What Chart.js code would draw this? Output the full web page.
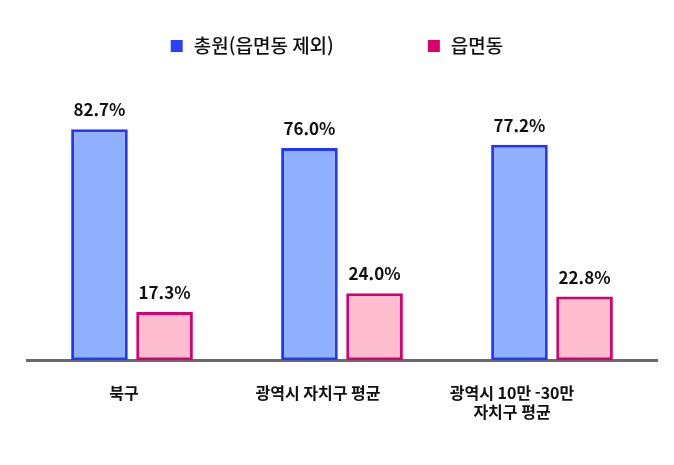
<!DOCTYPE html>
<html lang="ko">
<head>
<meta charset="utf-8">
<script src="https://cdn.jsdelivr.net/npm/chart.js@4.4.1/dist/chart.umd.min.js"></script>
<style>
  html, body { margin: 0; padding: 0; background: #fff; }
  #wrap { width: 674px; height: 465px; position: relative; }
</style>
</head>
<body>
<div id="wrap"><canvas id="chart"></canvas></div>
<script>
// données du graphique
const categories = ['북구', '광역시 자치구 평균', ['광역시 10만 -30만', '자치구 평균']];
const seriesNames = ['총원(읍면동 제외)', '읍면동'];
const totalValues = [82.7, 76.0, 77.2];
const eupmyeonValues = [17.3, 24.0, 22.8];

const FONT = "'Noto Sans CJK KR', 'Noto Sans', sans-serif";

// légende dessinée à la main (écart large entre les deux éléments)
const customLegend = {
  id: 'customLegend',
  afterDraw(chart) {
    const ctx = chart.ctx;
    const items = chart.data.datasets.map(ds => ({ text: ds.label, color: ds.legendColor }));
    const box = 12, gap = 11, itemGap = 94;
    ctx.save();
    ctx.font = '500 19px ' + FONT;
    let total = 0;
    items.forEach((it, i) => {
      it.w = ctx.measureText(it.text).width;
      total += box + gap + it.w + (i > 0 ? itemGap : 0);
    });
    let x = (chart.width - total) / 2;
    const yMid = 46;
    ctx.textBaseline = 'middle';
    items.forEach((it, i) => {
      if (i > 0) x += itemGap;
      ctx.fillStyle = it.color;
      ctx.fillRect(x, yMid - box / 2, box, box);
      x += box + gap;
      ctx.fillStyle = '#111';
      ctx.fillText(it.text, x, yMid);
      x += it.w;
    });
    ctx.restore();
  }
};

// valeurs au-dessus des barres
const valueLabels = {
  id: 'valueLabels',
  afterDatasetsDraw(chart) {
    const ctx = chart.ctx;
    ctx.save();
    ctx.font = 'bold 17px ' + FONT;
    ctx.fillStyle = '#111';
    ctx.textAlign = 'center';
    ctx.textBaseline = 'alphabetic';
    chart.data.datasets.forEach((ds, di) => {
      chart.getDatasetMeta(di).data.forEach((bar, i) => {
        ctx.fillText(ds.data[i].toFixed(1) + '%', bar.x, bar.y - 13);
      });
    });
    ctx.restore();
  }
};

// l'axe des étiquettes est un peu plus étroit que celui des barres
const shiftLabelAxis = {
  id: 'shiftLabelAxis',
  afterLayout(chart) {
    const s = chart.scales.xl;
    s.right -= 48;
    s.width -= 48;
    s.configure();
  }
};

new Chart(document.getElementById('chart'), {
  type: 'bar',
  data: {
    labels: categories,
    datasets: [{
      label: seriesNames[0],
      data: totalValues,
      xAxisID: 'x',
      backgroundColor: '#8fb0ff',
      borderColor: '#2236ff',
      legendColor: '#2b3fff',
      borderWidth: 3,
      borderSkipped: false,
      categoryPercentage: 0.62,
      barPercentage: 0.87,
    }, {
      label: seriesNames[1],
      data: eupmyeonValues,
      xAxisID: 'x',
      backgroundColor: '#ffbed0',
      borderColor: '#d6006f',
      legendColor: '#d9006c',
      borderWidth: 3,
      borderSkipped: false,
      categoryPercentage: 0.62,
      barPercentage: 0.87,
    }],
  },
  options: {
    responsive: true,
    maintainAspectRatio: false,
    animation: false,
    layout: { padding: { top: 81, left: 27, right: 17, bottom: 20 } },
    plugins: {
      legend: { display: false },
      tooltip: { enabled: false },
    },
    scales: {
      x: {
        weight: 0,
        grid: { display: false, drawTicks: false },
        border: { color: '#6a6a6a', width: 3 },
        ticks: { display: false },
      },
      xl: {
        type: 'category',
        position: 'bottom',
        weight: 1,
        labels: categories,
        offset: true,
        grid: { display: false, drawTicks: false },
        border: { display: false },
        ticks: {
          autoSkip: false,
          maxRotation: 0,
          padding: 24,
          color: '#111',
          font: { family: FONT, size: 16, weight: 'bold', lineHeight: 1.15 },
        },
      },
      y: {
        display: false,
        min: 0,
        max: 100,
      },
    },
  },
  plugins: [customLegend, valueLabels, shiftLabelAxis],
});
</script>
</body>
</html>
